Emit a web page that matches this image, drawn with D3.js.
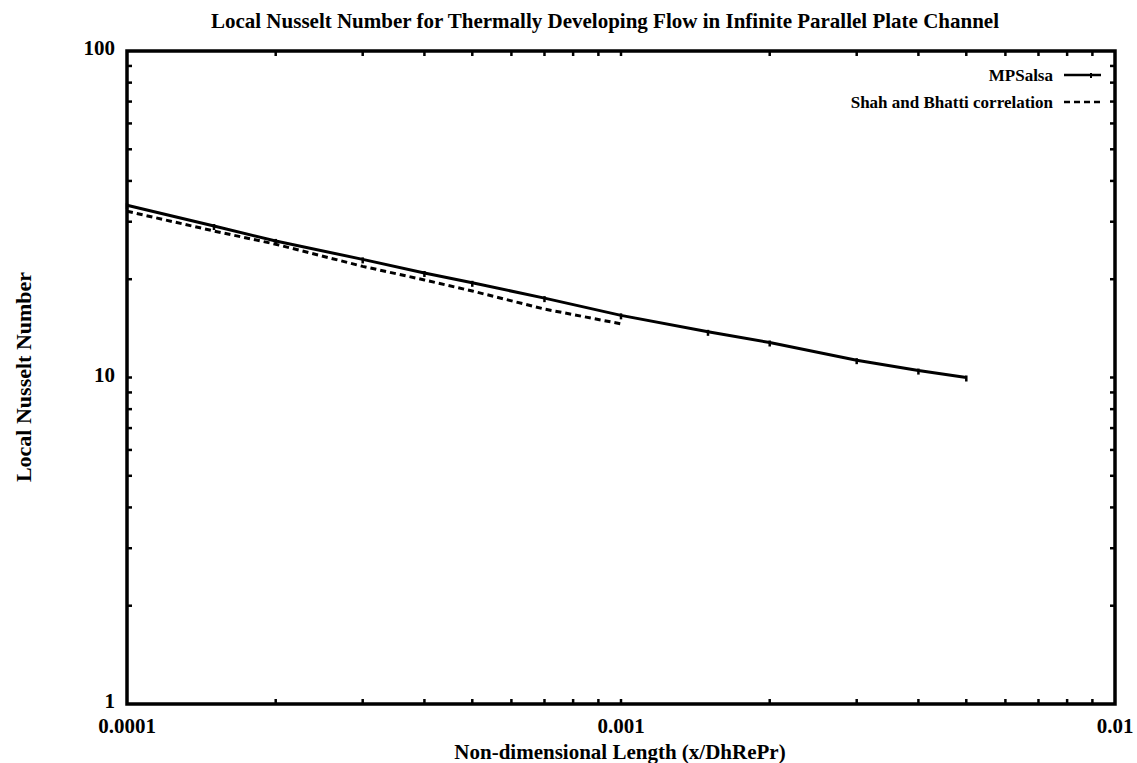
<!DOCTYPE html>
<html>
<head>
<meta charset="utf-8">
<script src="https://cdn.jsdelivr.net/npm/d3@7"></script>
<style>
  body { margin: 0; background: #fff; }
  svg text { font-family: "Liberation Serif", "DejaVu Serif", serif; fill: #000; }
</style>
</head>
<body>
<svg id="chart" width="1137" height="763"></svg>
<script>
// values
const mpsalsaX  = [0.0001, 0.00015, 0.0002, 0.0003, 0.0004, 0.0005, 0.0007, 0.001, 0.0015, 0.002, 0.003, 0.004, 0.005];
const mpsalsaNu = [33.7, 29.1, 26.2, 23.0, 20.9, 19.5, 17.5, 15.5, 13.8, 12.8, 11.3, 10.5, 10.0];
const shahX  = [0.0001, 0.00015, 0.0002, 0.0003, 0.0004, 0.0005, 0.0007, 0.001];
const shahNu = [32.3, 28.1, 25.6, 21.9, 19.9, 18.4, 16.2, 14.6];

const xTicks = [0.0001, 0.001, 0.01];
const xTickLabels = ['0.0001', '0.001', '0.01'];
const yTicks = [1, 10, 100];
const yTickLabels = ['1', '10', '100'];
const seriesNames = ['MPSalsa', 'Shah and Bhatti correlation'];

const margin = { top: 51, right: 22, bottom: 59, left: 127 };
const W = 1137, H = 763;
const w = W - margin.left - margin.right;
const h = H - margin.top - margin.bottom;

const svg = d3.select('#chart');
const g = svg.append('g').attr('transform', `translate(${margin.left},${margin.top})`);

const x = d3.scaleLog().domain([0.0001, 0.01]).range([0, w]);
const y = d3.scaleLog().domain([1, 100]).range([h, 0]);

// minor ticks 2..9 in each decade
const minorX = [], minorY = [];
[0.0001, 0.001].forEach(d => { for (let k = 2; k <= 9; k++) minorX.push(d * k); });
[1, 10].forEach(d => { for (let k = 2; k <= 9; k++) minorY.push(d * k); });

const tickLen = 5;
g.selectAll('.xt-b').data(minorX.concat([0.001])).join('line')
  .attr('x1', d => x(d)).attr('x2', d => x(d))
  .attr('y1', h).attr('y2', h - tickLen)
  .attr('stroke', '#000').attr('stroke-width', 2.5);
g.selectAll('.xt-t').data(minorX.concat([0.001])).join('line')
  .attr('x1', d => x(d)).attr('x2', d => x(d))
  .attr('y1', 0).attr('y2', tickLen)
  .attr('stroke', '#000').attr('stroke-width', 2.5);
g.selectAll('.yt-l').data(minorY.concat([10])).join('line')
  .attr('y1', d => y(d)).attr('y2', d => y(d))
  .attr('x1', 0).attr('x2', tickLen)
  .attr('stroke', '#000').attr('stroke-width', 2.5);
g.selectAll('.yt-r').data(minorY.concat([10])).join('line')
  .attr('y1', d => y(d)).attr('y2', d => y(d))
  .attr('x1', w).attr('x2', w - tickLen)
  .attr('stroke', '#000').attr('stroke-width', 2.5);

// frame
g.append('rect').attr('width', w).attr('height', h)
  .attr('fill', 'none').attr('stroke', '#000').attr('stroke-width', 3.5);

// tick labels
g.selectAll('.xl').data(xTicks).join('text')
  .attr('x', d => x(d)).attr('y', h + 29)
  .attr('text-anchor', 'middle').attr('font-size', 21).attr('font-weight', 'bold')
  .text((d, i) => xTickLabels[i]);
g.selectAll('.yl').data(yTicks).join('text')
  .attr('x', -12).attr('y', d => y(d) + 4)
  .attr('text-anchor', 'end').attr('font-size', 21).attr('font-weight', 'bold')
  .text((d, i) => yTickLabels[i]);

// series
const line = d3.line().x(d => x(d[0])).y(d => y(d[1]));
const mpsalsa = d3.zip(mpsalsaX, mpsalsaNu);
const shah = d3.zip(shahX, shahNu);

g.append('path').datum(shah).attr('d', line)
  .attr('fill', 'none').attr('stroke', '#000').attr('stroke-width', 3)
  .attr('stroke-dasharray', '6,4');
g.append('path').datum(mpsalsa).attr('d', line)
  .attr('fill', 'none').attr('stroke', '#000').attr('stroke-width', 3);
g.selectAll('.mk').data(mpsalsa).join('line')
  .attr('x1', d => x(d[0])).attr('x2', d => x(d[0]))
  .attr('y1', d => y(d[1]) - 2).attr('y2', d => y(d[1]) + 4)
  .attr('stroke', '#000').attr('stroke-width', 2.5);

// legend
const legend = g.append('g').attr('transform', `translate(${w - 62},0)`);
seriesNames.forEach((name, i) => {
  const ly = 24 + i * 27;
  legend.append('text').attr('x', 0).attr('y', ly + 6)
    .attr('text-anchor', 'end').attr('font-size', 17).attr('font-weight', 'bold')
    .text(name);
  legend.append('line').attr('x1', 11).attr('x2', 48).attr('y1', ly).attr('y2', ly)
    .attr('stroke', '#000').attr('stroke-width', 2.5)
    .attr('stroke-dasharray', i === 1 ? '6,4' : null);
  if (i === 0) {
    legend.append('line').attr('x1', 38).attr('x2', 38).attr('y1', ly - 2).attr('y2', ly + 3)
      .attr('stroke', '#000').attr('stroke-width', 2);
  }
});

// titles
svg.append('text').attr('x', 605).attr('y', 28)
  .attr('text-anchor', 'middle').attr('font-size', 21).attr('font-weight', 'bold')
  .text('Local Nusselt Number for Thermally Developing Flow in Infinite Parallel Plate Channel');
svg.append('text').attr('x', 620).attr('y', 759)
  .attr('text-anchor', 'middle').attr('font-size', 21).attr('font-weight', 'bold')
  .text('Non-dimensional Length (x/DhRePr)');
svg.append('text').attr('transform', 'translate(31,377) rotate(-90)')
  .attr('text-anchor', 'middle').attr('font-size', 22).attr('font-weight', 'bold')
  .text('Local Nusselt Number');
</script>
</body>
</html>
